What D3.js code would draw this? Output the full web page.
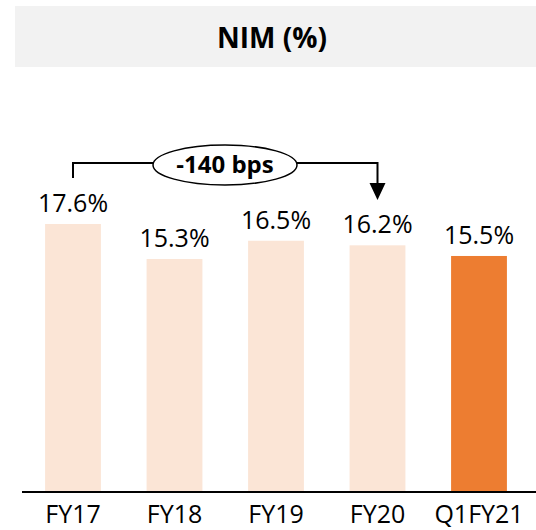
<!DOCTYPE html>
<html>
<head>
<meta charset="utf-8">
<script src="https://cdn.jsdelivr.net/npm/d3@7"></script>
<style>
  body { margin: 0; background: #fff; }
  text { font-family: "Open Sans", "Noto Sans", sans-serif; fill: #000; }
</style>
</head>
<body>
<div id="chart"></div>
<script>
const categories = ['FY17', 'FY18', 'FY19', 'FY20', 'Q1FY21'];
const nimValues = [17.6, 15.3, 16.5, 16.2, 15.5];
const valueLabels = ['17.6%', '15.3%', '16.5%', '16.2%', '15.5%'];
const highlighted = ['Q1FY21'];
const changeLabel = '-140 bps';
const changeFrom = 'FY17';
const changeTo = 'FY20';

const width = 536, height = 530;
const baseline = 492;

const svg = d3.select('#chart').append('svg')
    .attr('width', width)
    .attr('height', height);

// title band
svg.append('rect')
    .attr('x', 15).attr('y', 6)
    .attr('width', width - 15).attr('height', 61)
    .attr('fill', '#f2f2f2');
svg.append('text')
    .attr('x', 272).attr('y', 48)
    .attr('text-anchor', 'middle')
    .style('font-size', '28px')
    .style('font-weight', 'bold')
    .text('NIM (%)');

const x = d3.scaleBand()
    .domain(categories)
    .range([22.25, 529.75])
    .paddingInner(0.45)
    .paddingOuter(0.225);

const y = d3.scaleLinear()
    .domain([0, 17.6])
    .range([baseline, 224]);

const data = categories.map((c, i) => ({ name: c, val: nimValues[i], label: valueLabels[i] }));

svg.selectAll('rect.bar')
    .data(data)
    .enter()
    .append('rect')
    .attr('class', 'bar')
    .attr('x', d => x(d.name))
    .attr('y', d => y(d.val))
    .attr('width', x.bandwidth())
    .attr('height', d => baseline - y(d.val))
    .attr('fill', d => highlighted.includes(d.name) ? '#ed7d31' : '#fbe5d6');

svg.selectAll('text.val')
    .data(data)
    .enter()
    .append('text')
    .attr('class', 'val')
    .attr('x', d => x(d.name) + x.bandwidth() / 2)
    .attr('y', d => y(d.val) - 12)
    .attr('text-anchor', 'middle')
    .style('font-size', '25px')
    .text(d => d.label);

// x axis
const xAxis = d3.axisBottom(x).tickSize(0).tickPadding(0);
const gx = svg.append('g')
    .attr('transform', 'translate(0,' + baseline + ')')
    .call(xAxis);
gx.select('.domain').remove();
gx.append('line')
    .attr('x1', 22).attr('x2', width)
    .attr('stroke', '#000').attr('stroke-width', 2);
gx.selectAll('.tick text')
    .attr('y', 31)
    .attr('dy', null)
    .style('font-size', '25px')
    .style('font-family', '"Open Sans", sans-serif')
    .attr('fill', '#000');

// change annotation
const x0 = x(changeFrom) + x.bandwidth() / 2;
const x1 = x(changeTo) + x.bandwidth() / 2;
const lineY = 163;
const ex = 225, rx = 72, ry = 20;

svg.append('path')
    .attr('d', `M${x0},${lineY + 15}V${lineY}H${ex - rx}`)
    .attr('fill', 'none').attr('stroke', '#000').attr('stroke-width', 2);
svg.append('path')
    .attr('d', `M${ex + rx},${lineY}H${x1}V${186}`)
    .attr('fill', 'none').attr('stroke', '#000').attr('stroke-width', 2);
svg.append('path')
    .attr('d', `M${x1 - 8},${183}L${x1 + 8},${183}L${x1},${200}Z`)
    .attr('fill', '#000');
svg.append('ellipse')
    .attr('cx', ex).attr('cy', lineY + 2)
    .attr('rx', rx).attr('ry', ry)
    .attr('fill', '#fff').attr('stroke', '#000').attr('stroke-width', 1.5);
svg.append('text')
    .attr('x', ex).attr('y', 173)
    .attr('text-anchor', 'middle')
    .style('font-size', '24px')
    .style('font-weight', 'bold')
    .text(changeLabel);
</script>
</body>
</html>
